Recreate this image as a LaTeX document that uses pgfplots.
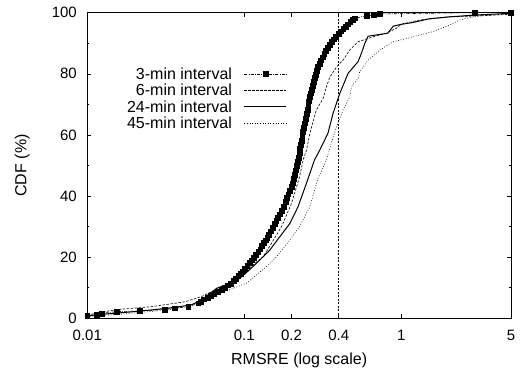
\documentclass[border=0pt]{standalone}
\usepackage{fontspec}
\setmainfont{Liberation Sans}
\usepackage{pgfplots}
\pgfplotsset{compat=1.18}
\begin{document}
\begin{tikzpicture}
\begin{axis}[
 at={(0,0)}, anchor=south west,
 scale only axis, width=423.7pt, height=305.6pt,
 xmode=log, xmin=0.01, xmax=5, ymin=0, ymax=100,
 xtick={0.01,0.1,0.2,0.4,1,5}, xticklabels={0.01,0.1,0.2,0.4,1,5},
 minor xtick={},
 ytick={0,20,40,60,80,100}, minor ytick={10,30,50,70,90},
 tick align=inside, major tick length=4pt, minor tick length=2pt,
 axis line style={line width=0.7pt},
 tick style={line width=0.6pt, black},
 /pgf/number format/assume math mode=true,
 xticklabel style={font=\fontsize{15}{18}\selectfont, anchor=center, inner sep=0pt, yshift=-16.7pt},
 yticklabel style={font=\fontsize{15}{18}\selectfont, anchor=east, inner sep=0pt, xshift=-10.3pt},
 xlabel={RMSRE (log scale)}, ylabel={CDF (\%)},
 xlabel style={font=\fontsize{16}{19}\selectfont, at={(axis description cs:0.5,-0.1374)}, anchor=center},
 ylabel style={font=\fontsize{16}{19}\selectfont, at={(axis description cs:-0.1534,0.5)}, anchor=center},
 legend style={at={(axis description cs:0.4713,0.826)}, anchor=north east, draw=none, fill=none,
   inner sep=0pt, outer sep=0pt, font=\fontsize{16}{19}\selectfont, column sep=12pt, row sep=0pt,
   nodes={inner sep=0pt, text height=13.6pt, text depth=2.7pt}},
 legend cell align=right, legend plot pos=right,
 legend image code/.code={\draw[mark repeat=2,mark phase=2,#1] plot coordinates {(0pt,0pt) (21pt,0pt) (42pt,0pt)};},
]
\addplot[black, line width=0.6pt, dash pattern=on 3pt off 1.2pt on 0.8pt off 1.2pt, mark=square*, mark size=2.4pt, mark options={solid}] coordinates {
(0.0100,0.9)(0.0115,1.1)(0.0123,1.6)(0.0154,2.2)(0.0216,2.4)(0.0312,2.9)(0.0361,3.3)(0.0440,3.8)
(0.0509,4.9)(0.0530,5.5)(0.0552,6.2)(0.0585,6.8)(0.0615,7.4)(0.0645,8.0)(0.0680,8.7)(0.0715,9.4)
(0.0750,10.1)(0.0790,10.8)(0.0825,11.4)(0.0855,12.2)(0.0885,13.0)(0.0915,13.8)(0.0945,14.6)(0.0975,15.4)
(0.1010,16.3)(0.1045,17.2)(0.1080,18.1)(0.1115,19.0)(0.1150,19.9)(0.1190,20.8)(0.1230,21.7)(0.1265,22.6)
(0.1295,23.6)(0.1330,24.6)(0.1365,25.5)(0.1400,26.4)(0.1440,27.4)(0.1480,28.5)(0.1520,29.7)(0.1560,30.8)
(0.1600,31.8)(0.1640,32.8)(0.1690,34.0)(0.1740,35.2)(0.1790,36.5)(0.1830,38.0)(0.1870,39.4)(0.1910,40.6)
(0.1955,41.8)(0.2000,43.0)(0.2045,44.2)(0.2075,45.6)(0.2105,47.0)(0.2135,48.4)(0.2165,49.8)(0.2195,51.2)
(0.2220,52.6)(0.2245,54.0)(0.2270,55.4)(0.2295,56.8)(0.2320,58.2)(0.2345,59.6)(0.2370,61.0)(0.2395,62.4)
(0.2425,63.8)(0.2460,65.3)(0.2495,66.8)(0.2530,68.2)(0.2555,69.6)(0.2580,71.0)(0.2610,72.4)(0.2645,73.6)
(0.2680,74.9)(0.2720,76.2)(0.2760,77.4)(0.2800,78.6)(0.2845,79.8)(0.2895,81.0)(0.2950,82.2)(0.3010,83.4)
(0.3080,84.4)(0.3150,85.4)(0.3230,86.5)(0.3310,87.5)(0.3400,88.5)(0.3500,89.5)(0.3600,90.4)(0.3720,91.3)
(0.3850,92.2)(0.3980,93.1)(0.4120,93.9)(0.4270,94.7)(0.4420,95.5)(0.4580,96.2)(0.4740,96.9)(0.4900,97.6)
(0.5060,98.2)(0.600,99.0)(0.670,99.3)(0.730,99.6)(2.935,100)(5,100)
};
\addlegendentry{3-min interval}
\addplot[black, line width=0.6pt, dash pattern=on 2.5pt off 1.5pt] coordinates {
(0.01,1.0)(0.0112,1.6)(0.013,2.2)(0.0158,2.9)(0.0257,3.8)(0.0419,5.4)(0.0534,7.1)(0.0666,9.5)
(0.08,11.3)(0.0984,14.5)(0.114,17.5)(0.132,20.2)(0.149,24.5)(0.1728,30)(0.2,37.6)(0.225,46.3)
(0.237,51.8)(0.249,55)(0.2616,60.5)(0.288,68.2)(0.318,72)(0.334,75.8)(0.351,79)(0.396,82.9)
(0.426,84.5)(0.47,87.8)(0.531,90.5)(0.662,92.1)(0.805,93.3)(0.931,94.9)(1.0,96.2)(1.31,97.6)
(2.04,98.7)(3.0,98.9)(5,99.5)
};
\addlegendentry{6-min interval}
\addplot[black, line width=1pt] coordinates {
(0.01,0.8)(0.0123,1.3)(0.0201,2.2)(0.0328,3.3)(0.0461,4.4)(0.0534,6)(0.0666,9.8)(0.075,10.8)
(0.0849,11.5)(0.0984,14)(0.114,17)(0.1321,20.2)(0.1452,22.3)(0.1685,26.7)(0.195,31)(0.22,36.5)
(0.249,44.2)(0.28,51.8)(0.303,55.1)(0.341,60.5)(0.368,67.1)(0.406,73.6)(0.459,80.2)(0.531,84)
(0.56,87)(0.586,90)(0.615,92.3)(0.69,92.7)(0.82,93.3)(0.89,95.6)(1.0,96.2)(1.19,96.8)
(1.5,98)(2.0,98.6)(2.86,99.2)(5,99.8)
};
\addlegendentry{24-min interval}
\addplot[black, line width=0.6pt, dash pattern=on 0.8pt off 1.8pt] coordinates {
(0.01,0.5)(0.0112,0.8)(0.0158,1.3)(0.025,2.2)(0.032,2.7)(0.0408,3.8)(0.0522,5.4)(0.0666,7.6)
(0.0849,9.8)(0.1034,11.5)(0.1197,14.2)(0.142,17.4)(0.1605,20.2)(0.195,25.6)(0.225,30)(0.2616,36.5)
(0.295,45.8)(0.334,51.8)(0.358,57.3)(0.387,62.7)(0.426,68.2)(0.47,72.5)(0.482,75.8)(0.531,78.5)
(0.544,80.7)(0.615,84.5)(0.73,87.8)(0.887,90.5)(0.98,91)(1.19,92.1)(1.31,92.7)(1.59,93.8)
(2.04,96)(2.36,97.6)(3.0,98.9)(5,99.7)
};
\addlegendentry{45-min interval}
\addplot[black, line width=0.6pt, dash pattern=on 2pt off 1.5pt, forget plot] coordinates {(0.4,0)(0.4,100)};
\end{axis}
\pgfresetboundingbox
\path[use as bounding box] (-87.3pt,-51.7pt) rectangle (435.7pt,318.3pt);
\end{tikzpicture}
\end{document}
